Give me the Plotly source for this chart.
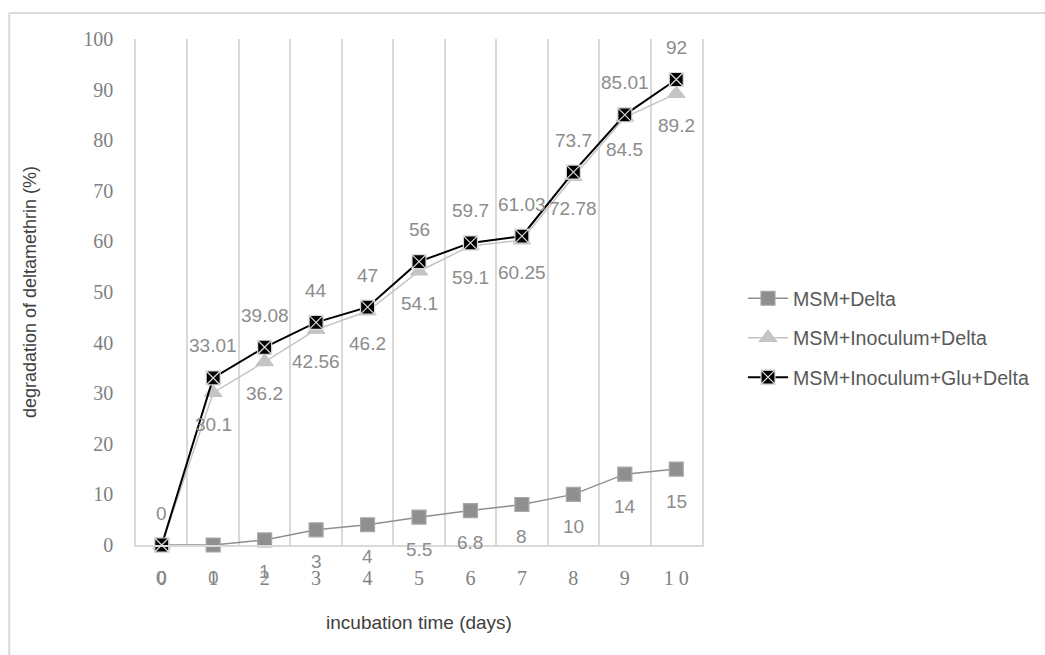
import plotly.graph_objects as go

# incubation days (categories) and their printed tick labels
days = ["0", "1", "2", "3", "4", "5", "6", "7", "8", "9", "10"]
day_labels = ["0", "1", "2", "3", "4", "5", "6", "7", "8", "9", "1 0"]

# degradation of deltamethrin (%) per treatment
msm_delta = [0, 0, 1, 3, 4, 5.5, 6.8, 8, 10, 14, 15]
msm_inoc_delta = [0, 30.1, 36.2, 42.56, 46.2, 54.1, 59.1, 60.25, 72.78, 84.5, 89.2]
msm_inoc_glu_delta = [0, 33.01, 39.08, 44, 47, 56, 59.7, 61.03, 73.7, 85.01, 92]

y_ticks = list(range(0, 101, 10))

GRID = "#d9d9d9"
LABEL_GREY = "#8c8c8c"
SERIF = "Liberation Serif"
SANS = "Liberation Sans"

# plot-area geometry in pixels
W, H = 1045, 655
L, R, T, B = 136, 342, 39, 110
PW, PH = W - L - R, H - T - B


def px_to_paper_x(px):
    return (px - L) / PW


def px_to_paper_y(py):
    return (H - B - py) / PH


fig = go.Figure()

series = [
    dict(name="MSM+Delta", y=msm_delta, symbol="square", size=14,
         color="#8f8f8f", edge="#a8a8a8", line=dict(color="#8f8f8f", width=1.5),
         shift=-32),
    dict(name="MSM+Inoculum+Delta", y=msm_inoc_delta, symbol="triangle-up", size=15,
         color="#c4c4c4", edge="#c4c4c4", line=dict(color="#c4c4c4", width=1.5),
         shift=-32),
    dict(name="MSM+Inoculum+Glu+Delta", y=msm_inoc_glu_delta, symbol="square-x", size=14,
         color="#000000", edge="#d9d9d9", line=dict(color="#000000", width=2),
         shift=32),
]

for i, s in enumerate(series):
    fig.add_trace(go.Scatter(
        x=days, y=s["y"], name=s["name"], mode="lines+markers",
        line=s["line"],
        marker=dict(symbol=s["symbol"], size=s["size"], color=s["color"],
                    line=dict(color=s["edge"], width=1.2)),
        cliponaxis=False, legendgroup=f"g{i}",
    ))
    # value labels beside each point
    for d, v in zip(days, s["y"]):
        fig.add_annotation(
            x=d, y=v, xref="x", yref="y", text=f"{v:g}", showarrow=False,
            yshift=s["shift"], font=dict(family=SANS, size=19, color=LABEL_GREY),
        )

# outer chart frame (left and top edges)
fig.add_shape(type="line", xref="paper", yref="paper",
              x0=px_to_paper_x(9), x1=px_to_paper_x(1100),
              y0=px_to_paper_y(13), y1=px_to_paper_y(13),
              line=dict(color=GRID, width=2))
fig.add_shape(type="line", xref="paper", yref="paper",
              x0=px_to_paper_x(9), x1=px_to_paper_x(9),
              y0=px_to_paper_y(13), y1=px_to_paper_y(700),
              line=dict(color=GRID, width=2))

fig.update_layout(
    width=W, height=H,
    margin=dict(l=L, r=R, t=T, b=B, pad=0),
    paper_bgcolor="white", plot_bgcolor="white",
    showlegend=True,
    legend=dict(
        x=px_to_paper_x(743), y=px_to_paper_y(279), xanchor="left", yanchor="top",
        font=dict(family=SANS, size=19.6, color="#595959"),
        traceorder="grouped", tracegroupgap=11, itemwidth=40,
        bgcolor="rgba(0,0,0,0)",
    ),
    xaxis=dict(
        type="category", range=[-0.5, 10.5], tickson="boundaries",
        tickmode="array", tickvals=days, ticktext=day_labels,
        showgrid=True, gridcolor=GRID, gridwidth=1.5,
        showline=True, linecolor=GRID, linewidth=1.5,
        ticks="", ticklabelstandoff=14,
        tickfont=dict(family=SERIF, size=20, color="#7f7f7f"),
        title=dict(text="incubation time (days)", standoff=28,
                   font=dict(family=SANS, size=19, color="#404040")),
        zeroline=False,
    ),
    yaxis=dict(
        range=[0, 100], tickmode="array", tickvals=y_ticks,
        showgrid=False, zeroline=False,
        showline=True, linecolor=GRID, linewidth=1.5, mirror=True,
        ticks="", ticklabelstandoff=17,
        tickfont=dict(family=SERIF, size=20, color="#7f7f7f"),
        title=dict(text="degradation of deltamethrin (%)", standoff=42,
                   font=dict(family=SANS, size=18, color="#404040")),
    ),
)

fig.write_html("out.html")
